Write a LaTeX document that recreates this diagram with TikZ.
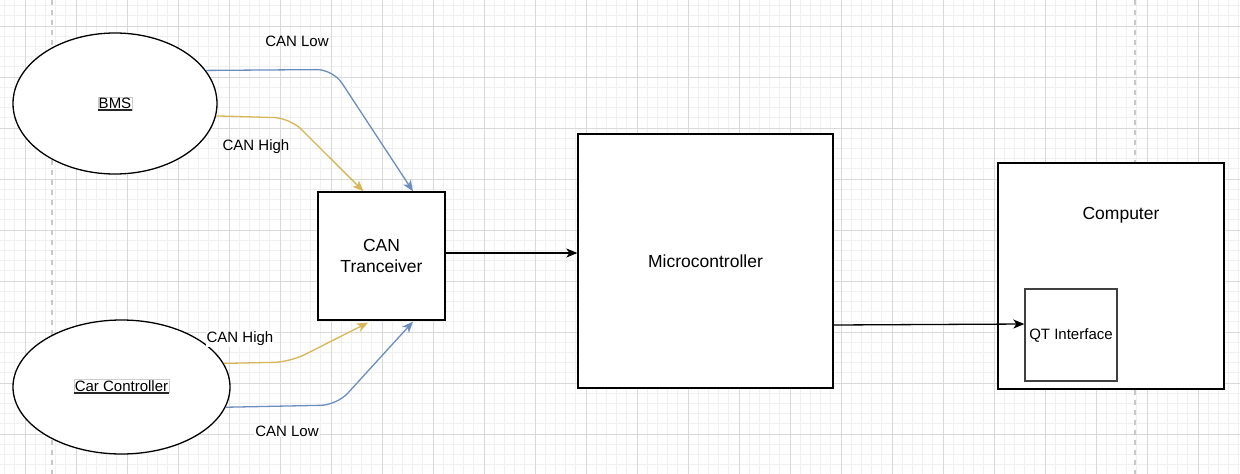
\documentclass[tikz,border=0pt]{standalone}
\usepackage{fontspec}
\setmainfont{Liberation Sans}
\usetikzlibrary{arrows.meta,calc,shapes.geometric}
\definecolor{cblue}{HTML}{6C8EBF}
\definecolor{cyellow}{HTML}{D6B656}
\definecolor{gminor}{HTML}{F0F0F0}
\definecolor{gmajor}{HTML}{D9D9D9}
\definecolor{gdash}{HTML}{C8C8C8}
\tikzset{
  box/.style={draw=black, line width=1.3pt, fill=white, inner sep=0pt},
  oval/.style={draw=black, line width=1.3pt, fill=white, ellipse, inner sep=0pt},
  small/.style={font=\fontsize{15}{18}\selectfont},
  big/.style={font=\fontsize{17.5}{21}\selectfont},
  conn/.style={line width=1.3pt, rounded corners=16pt, -{Stealth[length=11pt,width=9pt,inset=3pt]}},
  lblbox/.style={draw=gray!40, fill=white, inner sep=1pt, small},
}
\begin{document}
\begin{tikzpicture}[x=1pt,y=-1pt]
\useasboundingbox (0,0) rectangle (1240,474);
\fill[white] (0,0) rectangle (1240,474);
% grid
\foreach \i in {0,...,122} \draw[gminor, line width=0.8pt] ({4.6+10.2*\i},0) -- ({4.6+10.2*\i},474);
\foreach \i in {0,...,46} \draw[gminor, line width=0.8pt] (0,{5.6+10.2*\i}) -- (1240,{5.6+10.2*\i});
\foreach \i in {0,...,24} \draw[gmajor, line width=1pt] ({25+51*\i},0) -- ({25+51*\i},474);
\foreach \i in {0,...,9} \draw[gmajor, line width=1pt] (0,{26+51*\i}) -- (1240,{26+51*\i});
\draw[gdash, line width=1.2pt, dash pattern=on 5pt off 5pt] (52,0) -- (52,474);
\draw[gdash, line width=1.2pt, dash pattern=on 5pt off 5pt] (1135,0) -- (1135,474);
% nodes
\node[oval, minimum width=204pt, minimum height=141pt] (bms) at (115,103.5) {};
\node[lblbox] (bmslbl) at (115,103.5) {BMS};
\draw[line width=1.6pt, black!85] (bmslbl.south west) -- (bmslbl.south east);
\node[oval, minimum width=217pt, minimum height=134pt] (car) at (121.5,387) {};
\node[lblbox] (carlbl) at (121.5,386) {Car Controller};
\draw[line width=1.6pt, black!85] (carlbl.south west) -- (carlbl.south east);
\node[box, minimum width=127pt, minimum height=128pt, big, align=center] (tran) at (381.5,256) {CAN\\Tranceiver};
\node[box, minimum width=255pt, minimum height=254pt, big] (micro) at (705.5,261) {Microcontroller};
\node[box, minimum width=226pt, minimum height=226pt] (comp) at (1111,276) {};
\node[big] (complbl) at (1121,215) {Computer};
\node[draw=black!75, line width=1.3pt, fill=white, minimum width=92pt, minimum height=92pt, inner sep=0pt, small] (qt) at (1071,335) {QT Interface};
% connectors
\draw[conn, cblue] (bms.20) -- (333,69.5) -- ([xshift=31.5pt]tran.north);
\draw[conn, cyellow] (bms.-7.5) -- (290,118) -- ([xshift=-18pt]tran.north);
\draw[conn, cyellow] (car.13.5) -- (290,362) -- ([xshift=-13.5pt,yshift=-2pt]tran.south);
\draw[conn, cblue] (car.-11.4) -- (337,405) -- ([xshift=31.5pt,yshift=-1pt]tran.south);
\draw[conn, black] (tran.east |- 0,253) -- (micro.west |- 0,253);
\draw[conn, black] (micro.east |- 0,325) -- (qt.west |- 0,324);
% labels
\node[small] (l1) at (297,41) {CAN Low};
\node[small] (l2) at (256,147) {CAN High};
\node[small, fill=white, inner sep=1pt] (l3) at (240,339) {CAN High};
\node[small, fill=white, inner sep=1pt] (l4) at (287,431) {CAN Low};
\end{tikzpicture}
\end{document}
